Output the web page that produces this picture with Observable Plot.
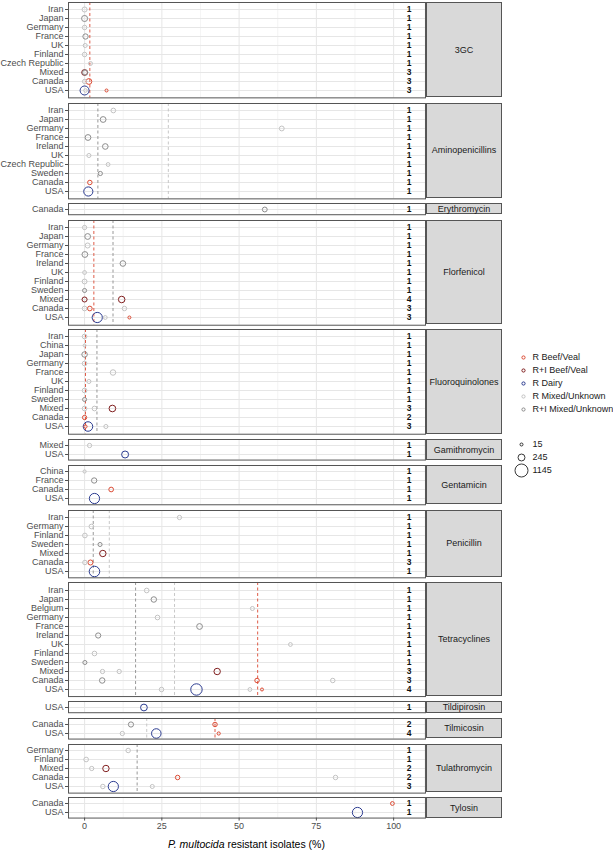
<!DOCTYPE html>
<html><head><meta charset="utf-8">
<script src="https://cdn.jsdelivr.net/npm/d3@7"></script>
<script src="https://cdn.jsdelivr.net/npm/@observablehq/plot@0.6"></script>
<style>
body{margin:0;background:#fff;font-family:"Liberation Sans",Arial,sans-serif;}
#wrap{position:relative;width:613px;height:850px;overflow:hidden;}
.pnl{position:absolute;left:0;}
.pnl svg{overflow:visible;}
.strip{position:absolute;left:426px;width:76px;background:#d9d9d9;border:1px solid #555;box-sizing:border-box;display:flex;align-items:center;justify-content:center;font-size:9px;color:#1a1a1a;}
.xtitle{position:absolute;left:68px;width:357px;top:838px;text-align:center;font-size:10.5px;color:#000;}
</style></head><body><div id="wrap"></div>
<script>
// ---------- data ----------
const antibiotics = ["3GC","Aminopenicillins","Erythromycin","Florfenicol","Fluoroquinolones","Gamithromycin","Gentamicin","Penicillin","Tetracyclines","Tildipirosin","Tilmicosin","Tulathromycin","Tylosin"];

// [antibiotic, country, number of studies]
const panelRows = [
  ["3GC","Iran",1],["3GC","Japan",1],["3GC","Germany",1],["3GC","France",1],["3GC","UK",1],["3GC","Finland",1],["3GC","Czech Republic",1],["3GC","Mixed",3],["3GC","Canada",3],["3GC","USA",3],
  ["Aminopenicillins","Iran",1],["Aminopenicillins","Japan",1],["Aminopenicillins","Germany",1],["Aminopenicillins","France",1],["Aminopenicillins","Ireland",1],["Aminopenicillins","UK",1],["Aminopenicillins","Czech Republic",1],["Aminopenicillins","Sweden",1],["Aminopenicillins","Canada",1],["Aminopenicillins","USA",1],
  ["Erythromycin","Canada",1],
  ["Florfenicol","Iran",1],["Florfenicol","Japan",1],["Florfenicol","Germany",1],["Florfenicol","France",1],["Florfenicol","Ireland",1],["Florfenicol","UK",1],["Florfenicol","Finland",1],["Florfenicol","Sweden",1],["Florfenicol","Mixed",4],["Florfenicol","Canada",3],["Florfenicol","USA",3],
  ["Fluoroquinolones","Iran",1],["Fluoroquinolones","China",1],["Fluoroquinolones","Japan",1],["Fluoroquinolones","Germany",1],["Fluoroquinolones","France",1],["Fluoroquinolones","UK",1],["Fluoroquinolones","Finland",1],["Fluoroquinolones","Sweden",1],["Fluoroquinolones","Mixed",3],["Fluoroquinolones","Canada",2],["Fluoroquinolones","USA",3],
  ["Gamithromycin","Mixed",1],["Gamithromycin","USA",1],
  ["Gentamicin","China",1],["Gentamicin","France",1],["Gentamicin","Canada",1],["Gentamicin","USA",1],
  ["Penicillin","Iran",1],["Penicillin","Germany",1],["Penicillin","Finland",1],["Penicillin","Sweden",1],["Penicillin","Mixed",1],["Penicillin","Canada",3],["Penicillin","USA",1],
  ["Tetracyclines","Iran",1],["Tetracyclines","Japan",1],["Tetracyclines","Belgium",1],["Tetracyclines","Germany",1],["Tetracyclines","France",1],["Tetracyclines","Ireland",1],["Tetracyclines","UK",1],["Tetracyclines","Finland",1],["Tetracyclines","Sweden",1],["Tetracyclines","Mixed",3],["Tetracyclines","Canada",3],["Tetracyclines","USA",4],
  ["Tildipirosin","USA",1],
  ["Tilmicosin","Canada",2],["Tilmicosin","USA",4],
  ["Tulathromycin","Germany",1],["Tulathromycin","Finland",1],["Tulathromycin","Mixed",2],["Tulathromycin","Canada",2],["Tulathromycin","USA",3],
  ["Tylosin","Canada",1],["Tylosin","USA",1]
];

const groupKeys   = ["RB","IB","RD","RM","IM"];
const groupLabels = ["R Beef/Veal","R+I Beef/Veal","R Dairy","R Mixed/Unknown","R+I Mixed/Unknown"];

// [antibiotic, country, group, % resistant, isolates]
const isolates = [
  ["3GC","Iran","RM",0,100],["3GC","Japan","IM",0,170],["3GC","Germany","RM",0,70],["3GC","France","IM",0.3,120],["3GC","UK","RM",0.2,50],["3GC","Finland","RM",0,70],["3GC","Czech Republic","RM",1.9,45],
  ["3GC","Mixed","IB",0,150],["3GC","Mixed","IM",0.2,110],["3GC","Canada","RM",0,60],["3GC","Canada","RB",1.4,150],["3GC","USA","RD",0,480],["3GC","USA","RM",0.3,30],["3GC","USA","RB",7.1,15],
  ["Aminopenicillins","Iran","RM",9.3,80],["Aminopenicillins","Japan","IM",6.0,150],["Aminopenicillins","Germany","RM",63.8,90],["Aminopenicillins","France","IM",1.1,150],["Aminopenicillins","Ireland","IM",6.7,140],["Aminopenicillins","UK","RM",1.4,50],["Aminopenicillins","Czech Republic","RM",7.6,40],["Aminopenicillins","Sweden","IM",5.1,55],["Aminopenicillins","Canada","RB",1.7,70],["Aminopenicillins","USA","RD",1.2,500],
  ["Erythromycin","Canada","IM",58.3,90],
  ["Florfenicol","Iran","RM",0,60],["Florfenicol","Japan","IM",1.0,150],["Florfenicol","Germany","RM",1.0,100],["Florfenicol","France","IM",0.1,150],["Florfenicol","Ireland","IM",12.4,140],["Florfenicol","UK","RM",0,40],["Florfenicol","Finland","RM",0,90],["Florfenicol","Sweden","IM",0,50],
  ["Florfenicol","Mixed","IB",0,100],["Florfenicol","Mixed","IB",12.0,210],["Florfenicol","Canada","RM",0,80],["Florfenicol","Canada","RB",1.7,80],["Florfenicol","Canada","RM",12.9,70],["Florfenicol","USA","RD",4.1,650],["Florfenicol","USA","RM",6.7,40],["Florfenicol","USA","RB",14.5,15],
  ["Fluoroquinolones","Iran","RM",0,80],["Fluoroquinolones","China","RM",0,15],["Fluoroquinolones","Japan","IM",0,130],["Fluoroquinolones","Germany","RM",0,80],["Fluoroquinolones","France","RM",9.2,130],["Fluoroquinolones","UK","RM",1.4,50],["Fluoroquinolones","Finland","RM",0,80],["Fluoroquinolones","Sweden","IM",0,50],
  ["Fluoroquinolones","Mixed","RM",0,80],["Fluoroquinolones","Mixed","RM",3.2,80],["Fluoroquinolones","Mixed","IB",9.0,220],["Fluoroquinolones","Canada","RB",0,60],["Fluoroquinolones","USA","RD",1.1,550],["Fluoroquinolones","USA","RB",0.3,20],["Fluoroquinolones","USA","RM",6.9,50],
  ["Gamithromycin","Mixed","RM",1.6,60],["Gamithromycin","USA","RD",13.1,250],
  ["Gentamicin","China","RM",0,20],["Gentamicin","France","IM",3.1,120],["Gentamicin","Canada","RB",8.6,80],["Gentamicin","USA","RD",3.2,650],
  ["Penicillin","Iran","RM",30.7,60],["Penicillin","Germany","RM",2.2,80],["Penicillin","Finland","RM",0.1,80],["Penicillin","Sweden","IM",5.0,50],["Penicillin","Mixed","IB",5.9,200],["Penicillin","Canada","RM",0.1,70],["Penicillin","Canada","RB",1.9,100],["Penicillin","USA","RD",3.2,700],
  ["Tetracyclines","Iran","RM",20.1,80],["Tetracyclines","Japan","IM",22.4,130],["Tetracyclines","Belgium","RM",54.3,50],["Tetracyclines","Germany","RM",23.6,80],["Tetracyclines","France","IM",37.2,150],["Tetracyclines","Ireland","IM",4.4,110],["Tetracyclines","UK","RM",66.6,40],["Tetracyclines","Finland","RM",3.2,80],["Tetracyclines","Sweden","IM",0.1,50],
  ["Tetracyclines","Mixed","RM",5.8,60],["Tetracyclines","Mixed","RM",11.2,60],["Tetracyclines","Mixed","IB",42.9,200],["Tetracyclines","Canada","IM",5.7,130],["Tetracyclines","Canada","RB",55.8,70],["Tetracyclines","Canada","RM",80.3,70],
  ["Tetracyclines","USA","RM",24.9,70],["Tetracyclines","USA","RD",36.2,850],["Tetracyclines","USA","RM",53.5,40],["Tetracyclines","USA","RB",57.4,15],
  ["Tildipirosin","USA","RD",19.2,230],
  ["Tilmicosin","Canada","IM",15.0,110],["Tilmicosin","Canada","RB",42.2,70],["Tilmicosin","USA","RM",12.2,60],["Tilmicosin","USA","RD",23.2,550],["Tilmicosin","USA","RB",43.4,20],
  ["Tulathromycin","Germany","RM",14.1,70],["Tulathromycin","Finland","RM",0.5,80],["Tulathromycin","Mixed","RM",2.3,60],["Tulathromycin","Mixed","IB",6.9,200],["Tulathromycin","Canada","RB",30.1,70],["Tulathromycin","Canada","RM",81.2,70],["Tulathromycin","USA","RM",5.9,70],["Tulathromycin","USA","RD",9.3,650],["Tulathromycin","USA","RM",21.9,50],
  ["Tylosin","Canada","RB",99.6,40],["Tylosin","USA","RD",88.3,650]
];

// [antibiotic, group, reference value %] (dashed lines)
const refLines = [
  ["3GC","RB",1.7],
  ["Aminopenicillins","IM",4.3],["Aminopenicillins","RM",27.1],
  ["Florfenicol","RB",3.0],["Florfenicol","IM",9.2],
  ["Fluoroquinolones","RB",0.3],["Fluoroquinolones","IM",4.0],
  ["Penicillin","IM",2.8],["Penicillin","RM",8.0],
  ["Tetracyclines","IM",16.5],["Tetracyclines","RM",29.1],["Tetracyclines","RB",56.0],
  ["Tilmicosin","RM",20.1],["Tilmicosin","RB",42.2],
  ["Tulathromycin","IM",17.0]
];

const sizeBreaks = [15,245,1145];
const xTicks = [0,25,50,75,100];
const xMinor = [12.5,37.5,62.5,87.5];

// ---------- styles ----------
const groupColors = ["#db4a33","#7f1d1d","#2a3a8f","#c2c2c2","#8c8c8c"];
const FONT = "'Liberation Sans', Arial, sans-serif";
const U = 9.35, GAP = 5.2;
const rScale = {type:"sqrt", domain:[15,1145], range:[1.5,6.5]};

const wrap = document.getElementById("wrap");
let frameTop = 2;
antibiotics.forEach((ab, i) => {
  const rows = panelRows.filter(d => d[0] === ab).map(d => ({country: d[1], k: d[2]}));
  const names = rows.map(d => d.country);
  const inner = U * (names.length + 0.2);
  const last = i === antibiotics.length - 1;
  const mb = last ? 20 : 1;
  const pts = isolates.filter(d => d[0] === ab).map(d => ({country: d[1], group: d[2], pct: d[3], n: d[4]}));
  const refs = refLines.filter(d => d[0] === ab).map(d => ({group: d[1], v: d[2]}));
  const marks = [
    Plot.ruleX(xMinor, {stroke: "#ededed", strokeWidth: 0.6}),
    Plot.ruleX(xTicks, {stroke: "#e6e6e6", strokeWidth: 1}),
    Plot.ruleY(names, {stroke: "#e6e6e6", strokeWidth: 1}),
    Plot.ruleX(refs, {x: "v", stroke: "group", strokeDasharray: "3,2.5", strokeWidth: 0.9}),
    Plot.dot(pts, {x: "pct", y: "country", r: "n", stroke: "group", strokeWidth: 1, fill: "none"}),
    Plot.text(rows, {x: () => 105, y: "country", text: d => String(d.k), fontWeight: "bold", fontSize: 8.5, fill: "#111"}),
    Plot.frame({stroke: "#555", strokeWidth: 1}),
    Plot.axisY({tickSize: 3, tickPadding: 2, fontSize: 9, color: "#4d4d4d", label: null})
  ];
  if (last) marks.push(Plot.axisX({ticks: xTicks, tickSize: 3, tickPadding: 2, fontSize: 9, color: "#4d4d4d", label: null}));
  const chart = Plot.plot({
    width: 426, height: inner + 1 + mb,
    marginLeft: 68, marginRight: 1, marginTop: 1, marginBottom: mb,
    style: {fontFamily: FONT, background: "transparent", overflow: "visible"},
    x: {domain: [-5.2, 110.3], axis: null},
    y: {type: "point", domain: names, padding: 0.6, axis: null},
    color: {domain: groupKeys, range: groupColors},
    r: rScale,
    marks
  });
  const div = document.createElement("div");
  div.className = "pnl";
  div.style.top = (frameTop - 1) + "px";
  div.appendChild(chart);
  wrap.appendChild(div);
  const strip = document.createElement("div");
  strip.className = "strip";
  strip.style.top = frameTop + "px";
  strip.style.height = inner + "px";
  strip.textContent = ab;
  wrap.appendChild(strip);
  frameTop += inner + GAP;
});

// x-axis title
const xt = document.createElement("div");
xt.className = "xtitle";
xt.innerHTML = "<i>P. multocida</i> resistant isolates (%)";
wrap.appendChild(xt);

// colour legend
const legColor = Plot.plot({
  width: 100, height: 66.25, marginLeft: 10, marginRight: 0, marginTop: 0, marginBottom: 0,
  style: {fontFamily: FONT, background: "transparent", overflow: "visible"},
  x: {domain: [0, 1], axis: null},
  y: {type: "point", domain: groupLabels, padding: 0.5, axis: null},
  color: {domain: groupLabels, range: groupColors},
  marks: [
    Plot.dot(groupLabels, {x: () => 0, y: d => d, stroke: d => d, r: 1.6, strokeWidth: 1}),
    Plot.text(groupLabels, {x: () => 0, y: d => d, text: d => d, dx: 9, textAnchor: "start", fontSize: 9, fill: "#1a1a1a"})
  ]
});
const lc = document.createElement("div");
lc.className = "pnl"; lc.style.left = "513px"; lc.style.top = "349.5px";
lc.appendChild(legColor); wrap.appendChild(lc);

// size legend
const legSize = Plot.plot({
  width: 100, height: 39, marginLeft: 8, marginRight: 0, marginTop: 0, marginBottom: 0,
  style: {fontFamily: FONT, background: "transparent", overflow: "visible"},
  x: {domain: [0, 1], axis: null},
  y: {type: "point", domain: sizeBreaks.map(String), padding: 0.5, axis: null},
  r: rScale,
  marks: [
    Plot.dot(sizeBreaks, {x: () => 0, y: d => String(d), r: d => d, stroke: "#222", strokeWidth: 0.9}),
    Plot.text(sizeBreaks, {x: () => 0, y: d => String(d), text: d => String(d), dx: 11, textAnchor: "start", fontSize: 9, fill: "#1a1a1a"})
  ]
});
const ls = document.createElement("div");
ls.className = "pnl"; ls.style.left = "513px"; ls.style.top = "436.5px";
ls.appendChild(legSize); wrap.appendChild(ls);
</script></body></html>
